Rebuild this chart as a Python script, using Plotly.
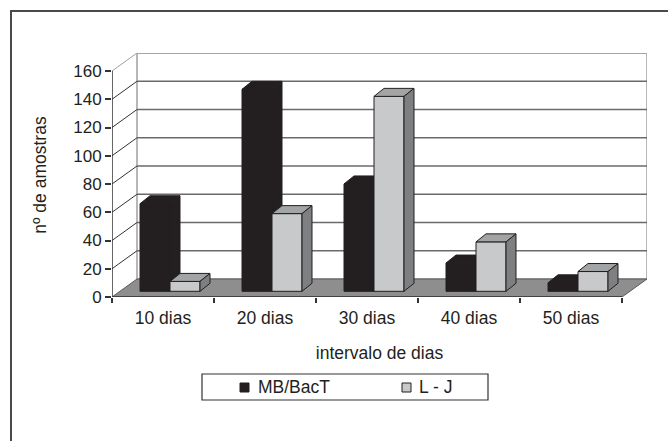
import plotly.graph_objects as go

# ---------------- data ----------------
categories = ["10 dias", "20 dias", "30 dias", "40 dias", "50 dias"]
mb_bact = [62, 143, 76, 20, 6]
l_j = [7, 55, 138, 35, 14]
y_ticks = [0, 20, 40, 60, 80, 100, 120, 140, 160]
series_names = ["MB/BacT", "L - J"]

# ---------------- geometry (pseudo 3D) ----------------
W, H = 668, 441
ML, MR, MT, MB = 112, 21, 53, 144
PLOT_W = W - ML - MR
PLOT_H = H - MT - MB
N = len(categories)
YMAX = y_ticks[-1]
PX_X = 102.0                      # px per category
WALL_DX = 25 / PX_X               # depth offset of back wall (x units)
PX_Y = PLOT_H / (YMAX + 18 / 1.41)
WALL_DY = 18 / PX_Y               # depth offset of back wall (y units)
BAR_W = 30 / PX_X
BAR_DX = 10 / PX_X
BAR_DY = 8 / PX_Y
BAR_OY = 5.7 / PX_Y
OFFS = [-23 / PX_X, -23 / PX_X + BAR_W]

X0, X1 = -0.5, N - 0.5

BLACK = "#231f20"
GRAY_FRONT = "#c8c9cb"
GRAY_TOP = "#a3a4a6"
GRAY_SIDE = "#7e7f81"
FLOOR = "#8e8e8e"
WALL_EDGE = "#a0a0a0"
SERIES_COLORS = [BLACK, GRAY_FRONT]
FS = 17.5


def px2paper_x(px):
    return (px - ML) / PLOT_W


def px2paper_y(py):
    return (H - MB - py) / PLOT_H


def poly(pts):
    return "M " + " L ".join(f"{x},{y}" for x, y in pts) + " Z"


shapes = []
annotations = []
# outer chart frame (cropped by image)
shapes.append(dict(type="rect", xref="paper", yref="paper",
                   x0=px2paper_x(11), x1=px2paper_x(720),
                   y0=px2paper_y(500), y1=px2paper_y(11),
                   line=dict(color="#4a4a4a", width=2), layer="below"))
# back wall
shapes.append(dict(type="rect", xref="x", yref="y",
                   x0=X0 + WALL_DX, x1=X1 + WALL_DX, y0=WALL_DY, y1=YMAX + WALL_DY,
                   fillcolor="white", line=dict(color=WALL_EDGE, width=1.5), layer="below"))
# gridlines on back wall and side wall
for v in y_ticks[1:]:
    col = WALL_EDGE if v == YMAX else "#6a6a6a"
    shapes.append(dict(type="line", xref="x", yref="y",
                       x0=X0 + WALL_DX, x1=X1 + WALL_DX, y0=v + WALL_DY, y1=v + WALL_DY,
                       line=dict(color=col, width=1.3), layer="below"))
    shapes.append(dict(type="line", xref="x", yref="y",
                       x0=X0, x1=X0 + WALL_DX, y0=v, y1=v + WALL_DY,
                       line=dict(color=WALL_EDGE if v == YMAX else "#333333", width=1),
                       layer="below"))
# floor
shapes.append(dict(type="path", xref="x", yref="y",
                   path=poly([(X0, 0), (X1, 0), (X1 + WALL_DX, WALL_DY), (X0 + WALL_DX, WALL_DY)]),
                   fillcolor=FLOOR, line=dict(color="#5a5a5a", width=1), layer="below"))

# bar top and side faces
for s, vals in enumerate([mb_bact, l_j]):
    layer = "below" if s == 0 else "above"
    top_c = BLACK if s == 0 else GRAY_TOP
    side_c = BLACK if s == 0 else GRAY_SIDE
    for i, v in enumerate(vals):
        xa = i + OFFS[s]
        xb = xa + BAR_W
        yt = BAR_OY + v
        shapes.append(dict(type="path", xref="x", yref="y",
                           path=poly([(xa, yt), (xb, yt), (xb + BAR_DX, yt + BAR_DY), (xa + BAR_DX, yt + BAR_DY)]),
                           fillcolor=top_c, line=dict(color=BLACK, width=1), layer=layer))
        shapes.append(dict(type="path", xref="x", yref="y",
                           path=poly([(xb, BAR_OY), (xb, yt), (xb + BAR_DX, yt + BAR_DY), (xb + BAR_DX, BAR_OY + BAR_DY)]),
                           fillcolor=side_c, line=dict(color=BLACK, width=1), layer=layer))

# front axis lines
shapes.append(dict(type="line", xref="x", yref="y", x0=X0, x1=X0, y0=0, y1=YMAX,
                   line=dict(color="#333333", width=1.5), layer="above"))
shapes.append(dict(type="line", xref="x", yref="y", x0=X0, x1=X1, y0=0, y1=0,
                   line=dict(color="#333333", width=1.5), layer="above"))

# legend box (Excel style)
LEG_L, LEG_R, LEG_T, LEG_B = 202, 488, 374, 400
shapes.append(dict(type="rect", xref="paper", yref="paper",
                   x0=px2paper_x(LEG_L), x1=px2paper_x(LEG_R),
                   y0=px2paper_y(LEG_B), y1=px2paper_y(LEG_T),
                   fillcolor="white", line=dict(color="#333333", width=1.2), layer="above"))
leg_items = [(240, 256), (402, 417)]
leg_cy = (LEG_T + LEG_B) / 2
for (sx, tx), name, col in zip(leg_items, series_names, SERIES_COLORS):
    shapes.append(dict(type="rect", xref="paper", yref="paper",
                       x0=px2paper_x(sx), x1=px2paper_x(sx + 9),
                       y0=px2paper_y(leg_cy + 5), y1=px2paper_y(leg_cy - 4),
                       fillcolor=col, line=dict(color=BLACK, width=1), layer="above"))
    annotations.append(dict(xref="paper", yref="paper", x=px2paper_x(tx), y=px2paper_y(leg_cy),
                            xanchor="left", yanchor="middle", text=name, showarrow=False,
                            font=dict(size=FS)))

fig = go.Figure()
for s, (name, vals, col) in enumerate(zip(series_names, [mb_bact, l_j], SERIES_COLORS)):
    fig.add_trace(go.Bar(
        x=list(range(N)), y=vals, base=BAR_OY, name=name,
        offset=OFFS[s], width=BAR_W,
        marker=dict(color=col, line=dict(color=BLACK, width=1)),
        hoverinfo="skip", showlegend=False,
    ))

FONT = "Liberation Sans, Arial, sans-serif"
fig.update_layout(
    width=W, height=H,
    margin=dict(l=ML, r=MR, t=MT, b=MB, autoexpand=False),
    paper_bgcolor="white", plot_bgcolor="white",
    font=dict(family=FONT, size=FS, color="#231f20"),
    barmode="overlay",
    showlegend=False,
    shapes=shapes,
    annotations=annotations,
    xaxis=dict(range=[X0, X1 + WALL_DX], tickvals=list(range(N)), ticktext=categories,
               ticks="", showgrid=False, zeroline=False, showline=False,
               ticklabelstandoff=8, automargin=False, tickfont=dict(size=FS),
               minor=dict(tickvals=[k - 0.5 for k in range(N + 1)], ticks="outside",
                          ticklen=5, tickcolor="#333333", tickwidth=1.5, showgrid=False),
               title=dict(text="intervalo de dias", standoff=20, font=dict(size=FS)),
               fixedrange=True),
    yaxis=dict(range=[0, YMAX + WALL_DY], tickvals=y_ticks, ticks="outside", ticklen=6,
               tickcolor="#333333", tickwidth=1.5, showgrid=False, zeroline=False,
               showline=False, automargin=False, tickfont=dict(size=17),
               title=dict(text="nº de amostras", standoff=22, font=dict(size=FS)),
               fixedrange=True),
)

fig.write_html("out.html", config={"displayModeBar": False},
               post_script="document.body.style.margin='0';document.body.style.padding='0';")
